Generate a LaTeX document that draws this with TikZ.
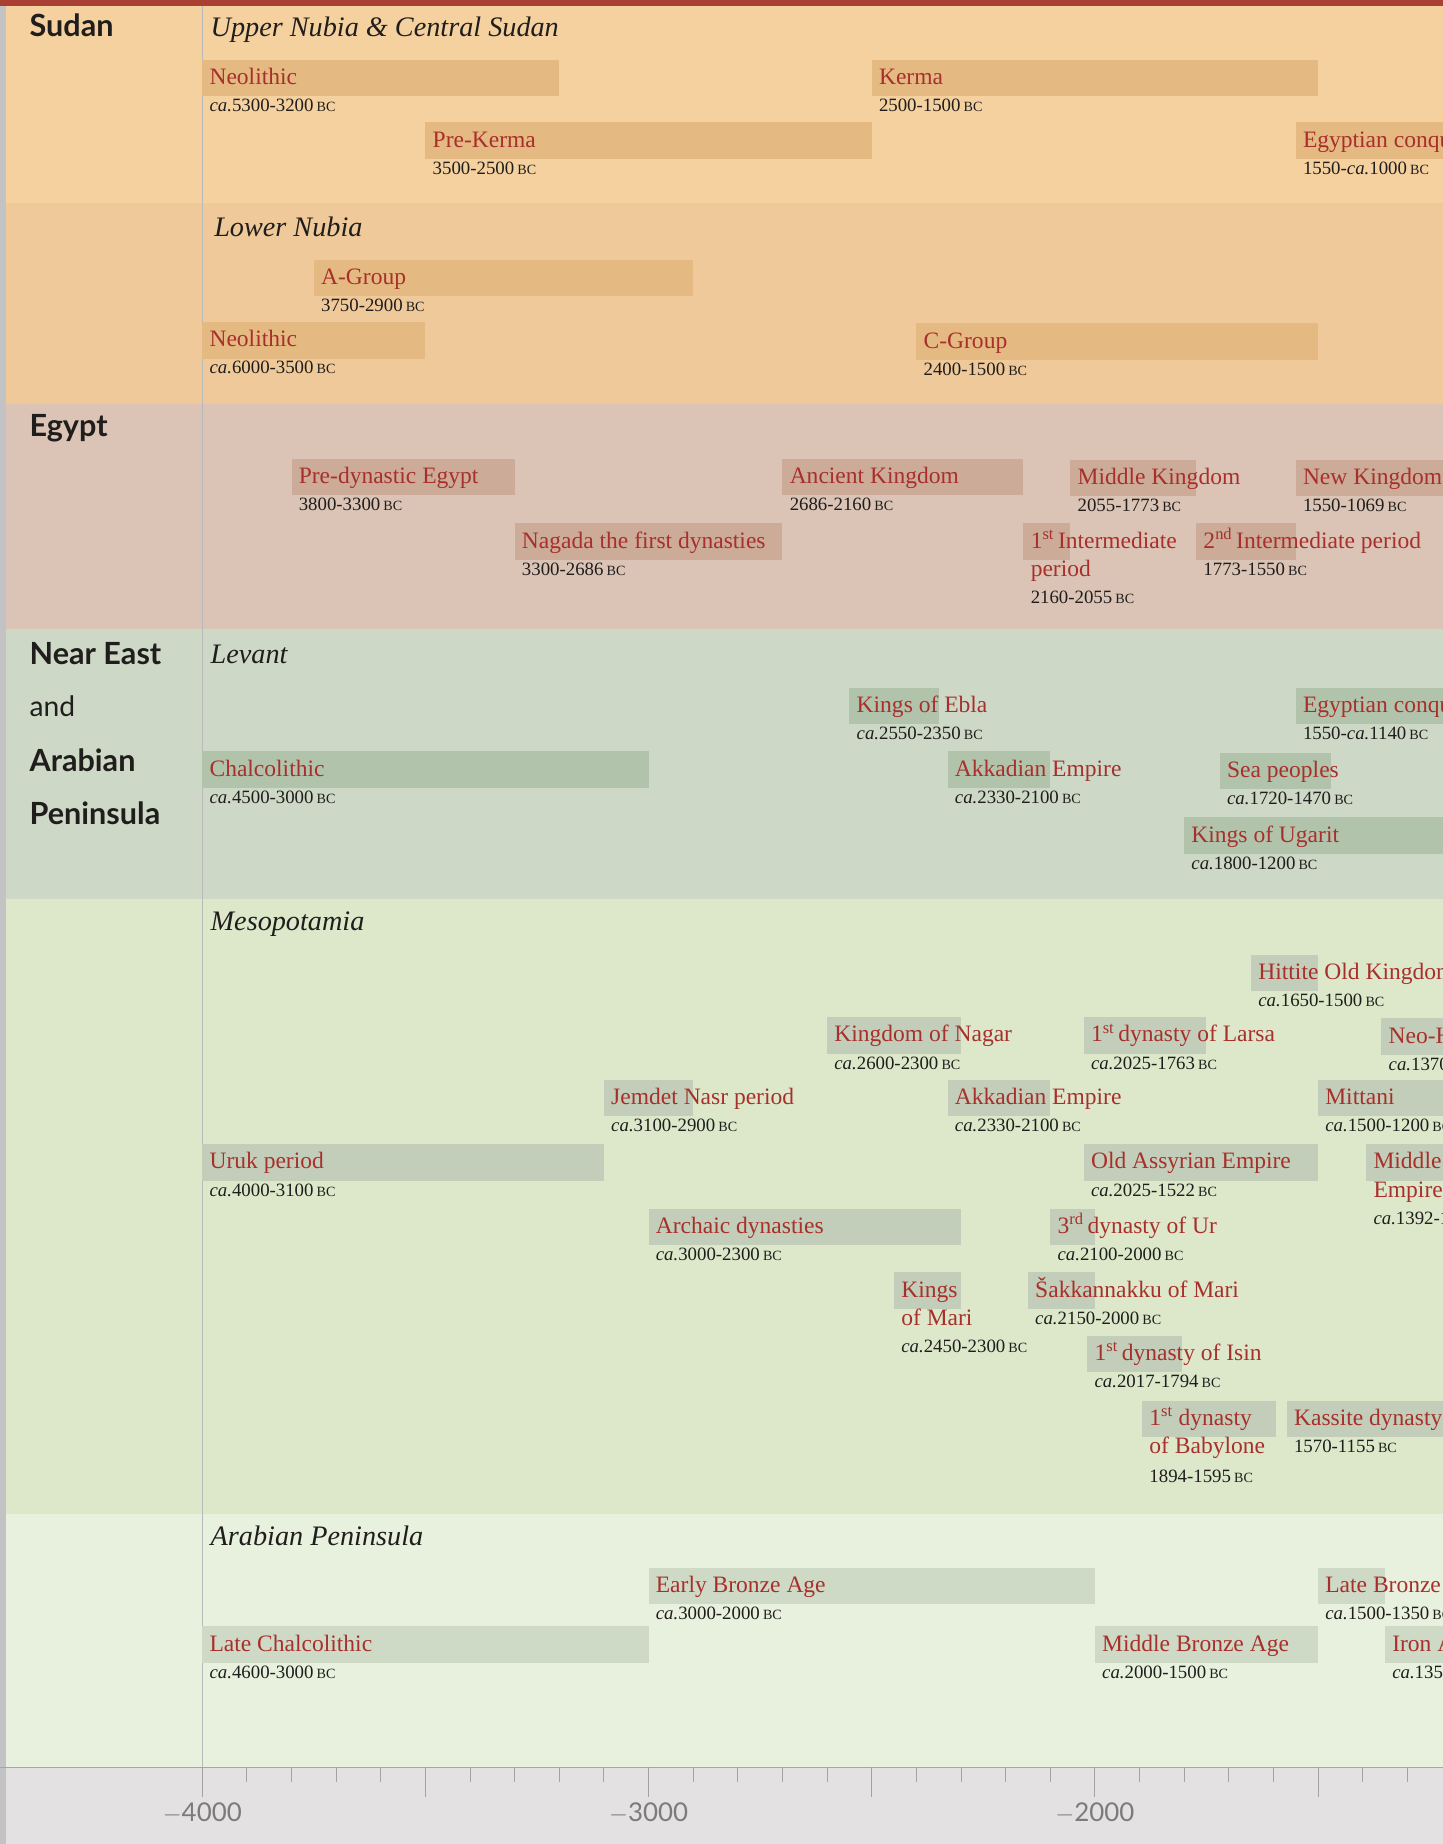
\documentclass[tikz,border=0pt]{standalone}
\usepackage{fontspec}
\setmainfont{Liberation Serif}
\newfontfamily\regionfont{Lato}

\definecolor{topred}{HTML}{A94033}
\definecolor{stripe}{HTML}{C3C2C4}
\definecolor{sudA}{HTML}{F6D1A0}
\definecolor{sudB}{HTML}{EFC999}
\definecolor{egy}{HTML}{DBC4B6}
\definecolor{lev}{HTML}{CED8C6}
\definecolor{meso}{HTML}{DDE8CB}
\definecolor{arab}{HTML}{E8F0DE}
\definecolor{axisbg}{HTML}{E3E1E2}
\definecolor{sudbar}{HTML}{E4B982}
\definecolor{egybar}{HTML}{CCAB98}
\definecolor{levbar}{HTML}{B1C3AA}
\definecolor{mesobar}{HTML}{C2CEB9}
\definecolor{arabbar}{HTML}{CED9C6}
\definecolor{labred}{HTML}{A8302C}
\definecolor{ink}{HTML}{1F1E1C}
\definecolor{axisgray}{HTML}{7B7B7B}

\newcommand\circa{\textit{ca.}}
\newcommand\bcs{\,{\fontsize{12}{12}\selectfont BC}}

\begin{document}
\begin{tikzpicture}[x=1pt,y=-1pt,
  lbl/.style={anchor=base west,inner sep=0pt,xshift=6pt,text=labred,font=\fontsize{20}{24}\selectfont},
  dat/.style={anchor=base west,inner sep=0pt,xshift=6pt,text=ink,font=\fontsize{16}{18}\selectfont},
  ttl/.style={anchor=base west,inner sep=0pt,xshift=7pt,text=ink,font=\fontsize{24}{28}\selectfont\itshape},
  region/.style={anchor=base west,inner sep=0pt,text=ink,font=\regionfont\bfseries\fontsize{26}{30}\selectfont},
  tick/.style={draw=axisgray!70,line width=0.8pt},
  yearlbl/.style={anchor=base,inner sep=0pt,text=axisgray,font=\regionfont\fontsize{22}{24}\selectfont}]
\useasboundingbox (0,0) rectangle (1227,1568);
\clip (0,0) rectangle (1227,1568);

\fill[sudA] (5,5) rectangle (1227,172.5);
\fill[sudB] (5,172.5) rectangle (1227,343.5);
\fill[egy] (5,343.5) rectangle (1227,535);
\fill[lev] (5,535) rectangle (1227,764.5);
\fill[meso] (5,764.5) rectangle (1227,1287);
\fill[arab] (5,1287) rectangle (1227,1503);
\fill[axisbg] (5,1503) rectangle (1227,1568);
\fill[stripe] (0,0) rectangle (5,1568);
\fill[topred] (0,0) rectangle (1227,5);

\node[region] (sudan) at (25,31) {Sudan};
\node[region] (egypt) at (25,371) {Egypt};
\node[region] (neareast) at (25,565) {Near East};
\node[region,font=\regionfont\fontsize{24}{30}\selectfont] (and) at (25,609) {and};
\node[region] (arabian) at (25,656) {Arabian};
\node[region] (peninsula) at (25,701) {Peninsula};

\begin{scope}[xshift=1690pt,x=0.3795pt]
\draw[draw=gray!55,line width=0.8pt] (-4000,5) -- (-4000,1503);

% Sudan
\node[ttl] (upper) at (-4000,31) {Upper Nubia \& Central Sudan};
\fill[sudbar] (-4000,51) rectangle (-3200,82);
\node[lbl] (sneo) at (-4000,72) {Neolithic};
\node[dat] (sneod) at (-4000,95) {\circa 5300-3200\bcs};
\fill[sudbar] (-2500,51) rectangle (-1500,82);
\node[lbl] (kerma) at (-2500,72) {Kerma};
\node[dat] (kermad) at (-2500,95) {2500-1500\bcs};
\fill[sudbar] (-3500,104) rectangle (-2500,135);
\node[lbl] (prekerma) at (-3500,125) {Pre-Kerma};
\node[dat] (prekermad) at (-3500,148) {3500-2500\bcs};
\fill[sudbar] (-1550,104) rectangle (-1000,135);
\node[lbl] (sconq) at (-1550,125) {Egyptian conquest};
\node[dat] (sconqd) at (-1550,148) {1550-\circa 1000\bcs};

\node[ttl,xshift=3pt] (lower) at (-4000,201) {Lower Nubia};
\fill[sudbar] (-3750,221) rectangle (-2900,252);
\node[lbl] (agroup) at (-3750,242) {A-Group};
\node[dat] (agroupd) at (-3750,265) {3750-2900\bcs};
\fill[sudbar] (-4000,274) rectangle (-3500,305);
\node[lbl] (lneo) at (-4000,295) {Neolithic};
\node[dat] (lneod) at (-4000,318) {\circa 6000-3500\bcs};
\fill[sudbar] (-2400,275) rectangle (-1500,306);
\node[lbl] (cgroup) at (-2400,296) {C-Group};
\node[dat] (cgroupd) at (-2400,319) {2400-1500\bcs};

% Egypt
\fill[egybar] (-3800,390) rectangle (-3300,421);
\node[lbl] (predyn) at (-3800,411) {Pre-dynastic Egypt};
\node[dat] (predynd) at (-3800,434) {3800-3300\bcs};
\fill[egybar] (-2700,390) rectangle (-2160,421);
\node[lbl] (ancient) at (-2700,411) {Ancient Kingdom};
\node[dat] (ancientd) at (-2700,434) {2686-2160\bcs};
\fill[egybar] (-2055,391) rectangle (-1773,422);
\node[lbl] (middlek) at (-2055,412) {Middle Kingdom};
\node[dat] (middlekd) at (-2055,435) {2055-1773\bcs};
\fill[egybar] (-1550,391) rectangle (-1069,422);
\node[lbl] (newk) at (-1550,412) {New Kingdom};
\node[dat] (newkd) at (-1550,435) {1550-1069\bcs};
\fill[egybar] (-3300,445) rectangle (-2700,476);
\node[lbl] (nagada) at (-3300,466) {Nagada the first dynasties};
\node[dat] (nagadad) at (-3300,489) {3300-2686\bcs};
\fill[egybar] (-2160,445) rectangle (-2055,476);
\node[lbl] (inter1) at (-2160,466) {1\textsuperscript{st}\,Intermediate};
\node[lbl] (inter1b) at (-2160,490) {period};
\node[dat] (inter1d) at (-2160,513) {2160-2055\bcs};
\fill[egybar] (-1773,445) rectangle (-1550,476);
\node[lbl] (inter2) at (-1773,466) {2\textsuperscript{nd}\,Intermediate period};
\node[dat] (inter2d) at (-1773,489) {1773-1550\bcs};

% Levant
\node[ttl] (levant) at (-4000,564) {Levant};
\fill[levbar] (-2550,585) rectangle (-2350,616);
\node[lbl] (ebla) at (-2550,606) {Kings of Ebla};
\node[dat] (eblad) at (-2550,629) {\circa 2550-2350\bcs};
\fill[levbar] (-1550,585) rectangle (-1140,616);
\node[lbl] (lconq) at (-1550,606) {Egyptian conquest};
\node[dat] (lconqd) at (-1550,629) {1550-\circa 1140\bcs};
\fill[levbar] (-4000,639) rectangle (-3000,670);
\node[lbl] (chalco) at (-4000,660) {Chalcolithic};
\node[dat] (chalcod) at (-4000,683) {\circa 4500-3000\bcs};
\fill[levbar] (-2330,639) rectangle (-2100,670);
\node[lbl] (lakkad) at (-2330,660) {Akkadian Empire};
\node[dat] (lakkadd) at (-2330,683) {\circa 2330-2100\bcs};
\fill[levbar] (-1720,640) rectangle (-1470,671);
\node[lbl] (seap) at (-1720,661) {Sea peoples};
\node[dat] (seapd) at (-1720,684) {\circa 1720-1470\bcs};
\fill[levbar] (-1800,695) rectangle (-1200,726);
\node[lbl] (ugarit) at (-1800,716) {Kings of Ugarit};
\node[dat] (ugaritd) at (-1800,739) {\circa 1800-1200\bcs};

% Mesopotamia
\node[ttl] (mesop) at (-4000,791) {Mesopotamia};
\fill[mesobar] (-1650,812) rectangle (-1500,843);
\node[lbl] (hittite) at (-1650,833) {Hittite Old Kingdom};
\node[dat] (hittited) at (-1650,856) {\circa 1650-1500\bcs};
\fill[mesobar] (-2600,865) rectangle (-2300,896);
\node[lbl] (nagar) at (-2600,886) {Kingdom of Nagar};
\node[dat] (nagard) at (-2600,909) {\circa 2600-2300\bcs};
\fill[mesobar] (-2025,865) rectangle (-1750,896);
\node[lbl] (larsa) at (-2025,886) {1\textsuperscript{st}\,dynasty of Larsa};
\node[dat] (larsad) at (-2025,909) {\circa 2025-1763\bcs};
\fill[mesobar] (-1358,866) rectangle (-1000,897);
\node[lbl] (neoh) at (-1358,887) {Neo-Hittite};
\node[dat] (neohd) at (-1358,910) {\circa 1370};
\fill[mesobar] (-3100,918) rectangle (-2900,949);
\node[lbl] (jemdet) at (-3100,939) {Jemdet Nasr period};
\node[dat] (jemdetd) at (-3100,962) {\circa 3100-2900\bcs};
\fill[mesobar] (-2330,918) rectangle (-2100,949);
\node[lbl] (makkad) at (-2330,939) {Akkadian Empire};
\node[dat] (makkadd) at (-2330,962) {\circa 2330-2100\bcs};
\fill[mesobar] (-1500,918) rectangle (-1200,949);
\node[lbl] (mittani) at (-1500,939) {Mittani};
\node[dat] (mittanid) at (-1500,962) {\circa 1500-1200\bcs};
\fill[mesobar] (-4000,973) rectangle (-3100,1004);
\node[lbl] (uruk) at (-4000,994) {Uruk period};
\node[dat] (urukd) at (-4000,1017) {\circa 4000-3100\bcs};
\fill[mesobar] (-2025,973) rectangle (-1500,1004);
\node[lbl] (oldass) at (-2025,994) {Old Assyrian Empire};
\node[dat] (oldassd) at (-2025,1017) {\circa 2025-1522\bcs};
\fill[mesobar] (-1392,973) rectangle (-1000,1004);
\node[lbl] (midass) at (-1392,994) {Middle};
\node[lbl] (midassb) at (-1392,1018) {Empire};
\node[dat] (midassd) at (-1392,1041) {\circa 1392-10};
\fill[mesobar] (-3000,1028) rectangle (-2300,1059);
\node[lbl] (archaic) at (-3000,1049) {Archaic dynasties};
\node[dat] (archaicd) at (-3000,1072) {\circa 3000-2300\bcs};
\fill[mesobar] (-2100,1028) rectangle (-2000,1059);
\node[lbl] (ur) at (-2100,1049) {3\textsuperscript{rd}\,dynasty of Ur};
\node[dat] (urd) at (-2100,1072) {\circa 2100-2000\bcs};
\fill[mesobar] (-2450,1082) rectangle (-2300,1113);
\node[lbl] (mari) at (-2450,1103) {Kings};
\node[lbl] (marib) at (-2450,1127) {of Mari};
\node[dat] (marid) at (-2450,1150) {\circa 2450-2300\bcs};
\fill[mesobar] (-2150,1082) rectangle (-2000,1113);
\node[lbl] (sakk) at (-2150,1103) {Šakkannakku of Mari};
\node[dat] (sakkd) at (-2150,1126) {\circa 2150-2000\bcs};
\fill[mesobar] (-2017,1136) rectangle (-1805,1167);
\node[lbl] (isin) at (-2017,1157) {1\textsuperscript{st}\,dynasty of Isin};
\node[dat] (isind) at (-2017,1180) {\circa 2017-1794\bcs};
\fill[mesobar] (-1894,1191) rectangle (-1595,1222);
\node[lbl] (babyl) at (-1894,1212) {1\textsuperscript{st} dynasty};
\node[lbl] (babylb) at (-1894,1236) {of Babylone};
\node[dat] (babyld) at (-1894,1261) {1894-1595\bcs};
\fill[mesobar] (-1570,1191) rectangle (-1155,1222);
\node[lbl] (kassite) at (-1570,1212) {Kassite dynasty};
\node[dat] (kassited) at (-1570,1235) {1570-1155\bcs};

% Arabian Peninsula
\node[ttl] (arabp) at (-4000,1314) {Arabian Peninsula};
\fill[arabbar] (-3000,1333) rectangle (-2000,1364);
\node[lbl] (eba) at (-3000,1354) {Early Bronze Age};
\node[dat] (ebad) at (-3000,1377) {\circa 3000-2000\bcs};
\fill[arabbar] (-1500,1333) rectangle (-1350,1364);
\node[lbl] (lba) at (-1500,1354) {Late Bronze Age};
\node[dat] (lbad) at (-1500,1377) {\circa 1500-1350\bcs};
\fill[arabbar] (-4000,1383) rectangle (-3000,1414);
\node[lbl] (lchalco) at (-4000,1404) {Late Chalcolithic};
\node[dat] (lchalcod) at (-4000,1427) {\circa 4600-3000\bcs};
\fill[arabbar] (-2000,1383) rectangle (-1500,1414);
\node[lbl] (mba) at (-2000,1404) {Middle Bronze Age};
\node[dat] (mbad) at (-2000,1427) {\circa 2000-1500\bcs};
\fill[arabbar] (-1350,1383) rectangle (-1000,1414);
\node[lbl] (iron) at (-1350,1404) {Iron Age};
\node[dat] (irond) at (-1350,1427) {\circa 1350};

% axis
\draw[draw=gray!70,line width=1.2pt] (-4460,1503) -- (-1000,1503);
\foreach \t in {-3900,-3800,...,-1300}{
\draw[tick] (\t,1503) -- (\t,1515);
}
\foreach \t in {-4000,-3500,...,-1500}{
\draw[tick] (\t,1503) -- (\t,1528);
}
\node[yearlbl] (y4000) at (-4000,1549) {$-$4000};
\node[yearlbl] (y3000) at (-3000,1549) {$-$3000};
\node[yearlbl] (y2000) at (-2000,1549) {$-$2000};
\end{scope}
\end{tikzpicture}
\end{document}
